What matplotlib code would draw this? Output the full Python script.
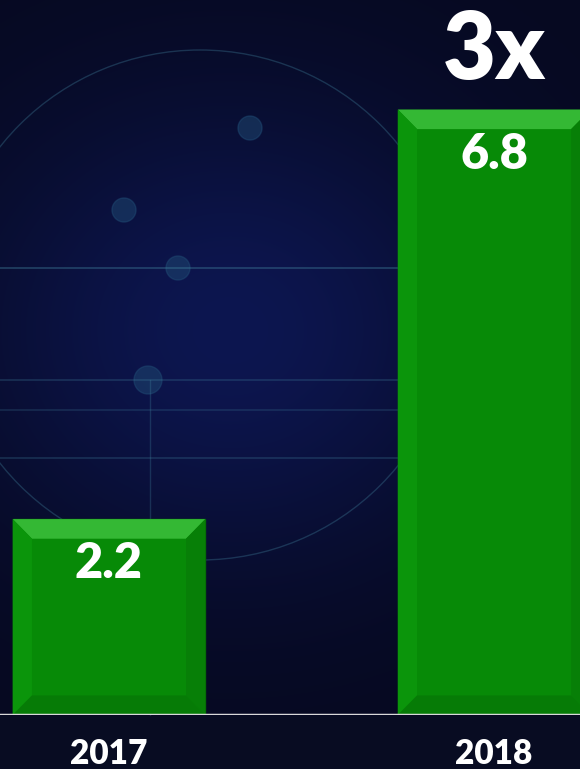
import matplotlib
matplotlib.use("Agg")
import matplotlib.pyplot as plt
from matplotlib.patches import Polygon, Circle
import numpy as np

# data
years = ["2017", "2018"]
values = [2.2, 6.8]
ratio_label = "3x"

W, H = 580, 769
fig = plt.figure(figsize=(W / 100, H / 100), dpi=100)
fig.patch.set_facecolor("#070a22")

# background: dark navy with a bluish glow in the middle
bg = fig.add_axes([0, 0, 1, 1])
bg.set_xlim(0, W)
bg.set_ylim(H, 0)
bg.axis("off")
yy, xx = np.mgrid[0:H, 0:W]
glow = np.exp(-(((xx - 230) / 260.0) ** 2 + ((yy - 330) / 230.0) ** 2))
base = np.array([6, 9, 32]) / 255.0
blue = np.array([13, 22, 80]) / 255.0
img = base + glow[..., None] * (blue - base)
bg.imshow(img, extent=(0, W, H, 0), aspect="auto", zorder=0)

# faint decorative circuit lines
deco = "#3f7f9a"
bg.add_patch(Circle((200, 305), 255, fill=False, ec=deco, lw=1, alpha=0.35))
for ly, a in [(268, 0.45), (380, 0.3), (410, 0.25), (458, 0.3)]:
    bg.plot([0, W], [ly, ly], color=deco, lw=1.2, alpha=a)
bg.plot([150, 150], [380, 716], color=deco, lw=1, alpha=0.3)
for cx, cy, r in [(178, 268, 12), (148, 380, 14), (124, 210, 12), (250, 128, 12)]:
    bg.add_patch(Circle((cx, cy), r, color="#1f4a73", alpha=0.5))
bg.fill_between([0, W], 716, H, color="#080c22", zorder=2)

# chart axes
ax = fig.add_axes([0, 54 / H, 1, 715 / H])
ax.set_facecolor("none")
x = np.arange(len(years))
ax.set_xlim(-0.283, 1.223)
ax.set_ylim(0, 8.03)
bars = ax.bar(x, values, width=0.5, color="#078a07", edgecolor="#056a05",
              linewidth=1, zorder=2)

# bevel effect from each bar's geometry
bx, by = 0.05, 0.22
for b in bars:
    x0, y0 = b.get_x(), b.get_y()
    x1, y1 = x0 + b.get_width(), y0 + b.get_height()
    faces = [
        ([(x0, y1), (x1, y1), (x1 - bx, y1 - by), (x0 + bx, y1 - by)], "#34b834"),
        ([(x0, y0), (x0, y1), (x0 + bx, y1 - by), (x0 + bx, y0 + by)], "#0b950b"),
        ([(x1, y0), (x1, y1), (x1 - bx, y1 - by), (x1 - bx, y0 + by)], "#077f07"),
        ([(x0, y0), (x1, y0), (x1 - bx, y0 + by), (x0 + bx, y0 + by)], "#067b06"),
    ]
    for pts, c in faces:
        ax.add_patch(Polygon(pts, closed=True, fc=c, ec="none", zorder=3))

# value labels inside bars
for xi, v in zip(x, values):
    ax.text(xi, v - 0.5, f"{v:.1f}", ha="center", va="center", color="white",
            fontsize=35, fontweight="heavy", family="Lato", zorder=4)

ax.text(x[1], 7.45, ratio_label, ha="center", va="center", color="white",
        fontsize=66, fontweight="heavy", family="Lato", zorder=4)

# baseline and year labels
ax.axhline(0, color="#d9d9d9", lw=2.5, zorder=5)
for xi, yr in zip(x, years):
    ax.text(xi, -0.44, yr, ha="center", va="center", color="white",
            fontsize=24, fontweight="heavy", family="Lato", clip_on=False)

ax.axis("off")
fig.savefig("out.png", dpi=100, facecolor=fig.get_facecolor())
